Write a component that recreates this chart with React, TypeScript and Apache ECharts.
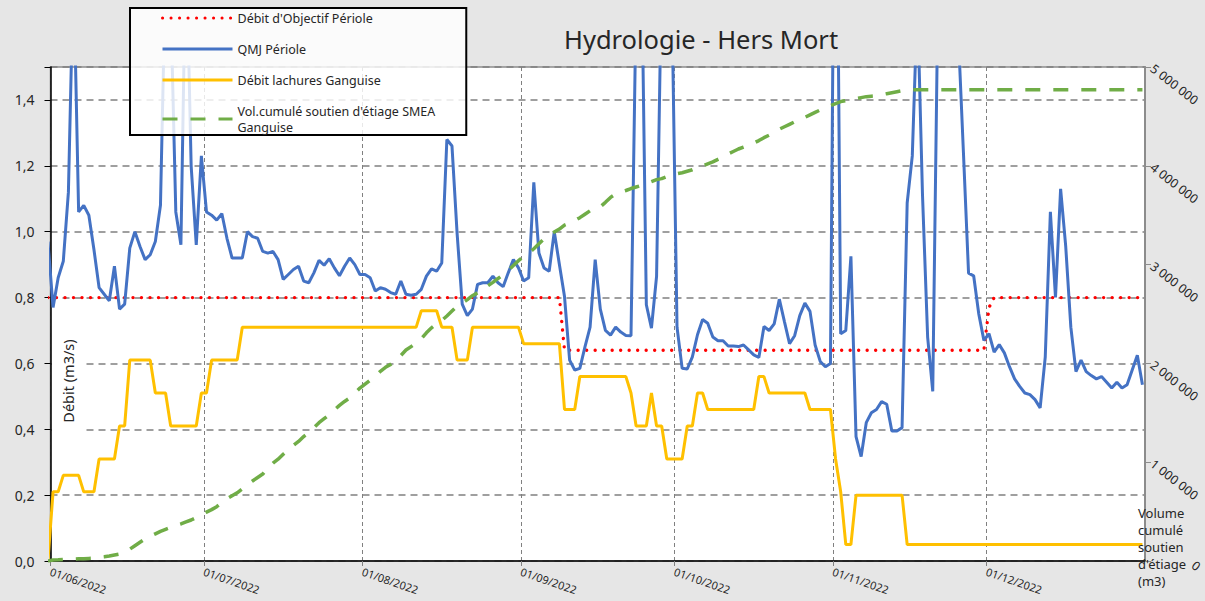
import React, { useEffect, useRef } from 'react';
import * as echarts from 'echarts';

const FONT = "'Noto Sans', 'Open Sans', sans-serif";
const DAY = 86400000;
// first value = 31/05/2022; Excel places each daily point in the middle of its day
const FIRST_POINT = new Date(2022, 4, 31, 12).getTime();
const X_MIN = new Date(2022, 5, 1).getTime();
const X_MAX = new Date(2023, 0, 1).getTime();

const NAME_OBJ = "Débit d'Objectif Périole";
const NAME_QMJ = 'QMJ Périole';
const NAME_LACH = 'Débit lachures Ganguise';
const NAME_VOL = "Vol.cumulé soutien d'étiage SMEA Ganguise";

const qmjPeriole = [
  0.97,
  0.77, 0.86, 0.91, 1.12, 1.8, 1.06, 1.08, 1.05, 0.945, 0.83,
  0.81, 0.79, 0.895, 0.765, 0.78, 0.95, 1.0, 0.955, 0.915, 0.93,
  0.97, 1.08, 1.8, 1.7, 1.06, 0.96, 1.9, 1.2, 0.96, 1.23,
  1.06, 1.05, 1.035, 1.055, 0.98, 0.92, 0.92, 0.92, 1.0, 0.985,
  0.98, 0.94, 0.935, 0.94, 0.915, 0.855, 0.87, 0.885, 0.895, 0.85,
  0.845, 0.875, 0.913, 0.898, 0.918, 0.89, 0.866, 0.895, 0.92, 0.9,
  0.87, 0.87, 0.86, 0.82, 0.83, 0.825, 0.815, 0.81, 0.85, 0.81,
  0.807, 0.81, 0.825, 0.865, 0.887, 0.88, 0.905, 1.28, 1.26, 0.995,
  0.78, 0.745, 0.765, 0.84, 0.845, 0.845, 0.865, 0.845, 0.833, 0.875,
  0.915, 0.89, 0.85, 0.86, 1.15, 0.935, 0.89, 0.88, 1.0, 0.9,
  0.803, 0.61, 0.58, 0.585, 0.65, 0.71, 0.915, 0.765, 0.7, 0.686,
  0.71, 0.695, 0.685, 0.684, 1.7, 1.9, 0.778, 0.707, 0.864, 1.8,
  2.0, 1.7, 0.71, 0.585, 0.583, 0.62, 0.687, 0.733, 0.722, 0.68,
  0.669, 0.669, 0.653, 0.653, 0.651, 0.656, 0.641, 0.626, 0.618, 0.712,
  0.7, 0.72, 0.795, 0.727, 0.66, 0.684, 0.745, 0.783, 0.758, 0.656,
  0.606, 0.59, 0.6, 2.6, 0.69, 0.7, 0.925, 0.378, 0.317, 0.42,
  0.45, 0.46, 0.484, 0.476, 0.395, 0.395, 0.405, 1.087, 1.23, 1.7,
  1.11, 0.68, 0.515, 1.7, 2.0, 2.0, 2.0, 1.6, 1.24, 0.874,
  0.866, 0.75, 0.67, 0.69, 0.634, 0.657, 0.632, 0.59, 0.553, 0.53,
  0.51, 0.505, 0.49, 0.465, 0.62, 1.06, 0.8, 1.13, 0.955, 0.71,
  0.575, 0.61, 0.575, 0.563, 0.553, 0.56, 0.543, 0.525, 0.543, 0.525,
  0.535, 0.58, 0.625, 0.535,
];

const debitLachures = [
  0,
  0.21, 0.21, 0.26, 0.26, 0.26, 0.26, 0.21, 0.21, 0.21, 0.31,
  0.31, 0.31, 0.31, 0.41, 0.41, 0.61, 0.61, 0.61, 0.61, 0.61,
  0.51, 0.51, 0.51, 0.41, 0.41, 0.41, 0.41, 0.41, 0.41, 0.51,
  0.51, 0.61, 0.61, 0.61, 0.61, 0.61, 0.61, 0.71, 0.71, 0.71,
  0.71, 0.71, 0.71, 0.71, 0.71, 0.71, 0.71, 0.71, 0.71, 0.71,
  0.71, 0.71, 0.71, 0.71, 0.71, 0.71, 0.71, 0.71, 0.71, 0.71,
  0.71, 0.71, 0.71, 0.71, 0.71, 0.71, 0.71, 0.71, 0.71, 0.71,
  0.71, 0.71, 0.76, 0.76, 0.76, 0.76, 0.71, 0.71, 0.71, 0.61,
  0.61, 0.61, 0.71, 0.71, 0.71, 0.71, 0.71, 0.71, 0.71, 0.71,
  0.71, 0.71, 0.66, 0.66, 0.66, 0.66, 0.66, 0.66, 0.66, 0.66,
  0.46, 0.46, 0.46, 0.56, 0.56, 0.56, 0.56, 0.56, 0.56, 0.56,
  0.56, 0.56, 0.56, 0.51, 0.41, 0.41, 0.41, 0.51, 0.41, 0.41,
  0.31, 0.31, 0.31, 0.31, 0.41, 0.41, 0.51, 0.51, 0.46, 0.46,
  0.46, 0.46, 0.46, 0.46, 0.46, 0.46, 0.46, 0.46, 0.56, 0.56,
  0.51, 0.51, 0.51, 0.51, 0.51, 0.51, 0.51, 0.51, 0.46, 0.46,
  0.46, 0.46, 0.46, 0.31, 0.21, 0.05, 0.05, 0.2, 0.2, 0.2,
  0.2, 0.2, 0.2, 0.2, 0.2, 0.2, 0.2, 0.05, 0.05, 0.05,
  0.05, 0.05, 0.05, 0.05, 0.05, 0.05, 0.05, 0.05, 0.05, 0.05,
  0.05, 0.05, 0.05, 0.05, 0.05, 0.05, 0.05, 0.05, 0.05, 0.05,
  0.05, 0.05, 0.05, 0.05, 0.05, 0.05, 0.05, 0.05, 0.05, 0.05,
  0.05, 0.05, 0.05, 0.05, 0.05, 0.05, 0.05, 0.05, 0.05, 0.05,
  0.05, 0.05, 0.05, 0.05,
];

const debitObjectif = [
  0.8,
  0.8, 0.8, 0.8, 0.8, 0.8, 0.8, 0.8, 0.8, 0.8, 0.8,
  0.8, 0.8, 0.8, 0.8, 0.8, 0.8, 0.8, 0.8, 0.8, 0.8,
  0.8, 0.8, 0.8, 0.8, 0.8, 0.8, 0.8, 0.8, 0.8, 0.8,
  0.8, 0.8, 0.8, 0.8, 0.8, 0.8, 0.8, 0.8, 0.8, 0.8,
  0.8, 0.8, 0.8, 0.8, 0.8, 0.8, 0.8, 0.8, 0.8, 0.8,
  0.8, 0.8, 0.8, 0.8, 0.8, 0.8, 0.8, 0.8, 0.8, 0.8,
  0.8, 0.8, 0.8, 0.8, 0.8, 0.8, 0.8, 0.8, 0.8, 0.8,
  0.8, 0.8, 0.8, 0.8, 0.8, 0.8, 0.8, 0.8, 0.8, 0.8,
  0.8, 0.8, 0.8, 0.8, 0.8, 0.8, 0.8, 0.8, 0.8, 0.8,
  0.8, 0.8, 0.8, 0.8, 0.8, 0.8, 0.8, 0.8, 0.8, 0.8,
  0.64, 0.64, 0.64, 0.64, 0.64, 0.64, 0.64, 0.64, 0.64, 0.64,
  0.64, 0.64, 0.64, 0.64, 0.64, 0.64, 0.64, 0.64, 0.64, 0.64,
  0.64, 0.64, 0.64, 0.64, 0.64, 0.64, 0.64, 0.64, 0.64, 0.64,
  0.64, 0.64, 0.64, 0.64, 0.64, 0.64, 0.64, 0.64, 0.64, 0.64,
  0.64, 0.64, 0.64, 0.64, 0.64, 0.64, 0.64, 0.64, 0.64, 0.64,
  0.64, 0.64, 0.64, 0.64, 0.64, 0.64, 0.64, 0.64, 0.64, 0.64,
  0.64, 0.64, 0.64, 0.64, 0.64, 0.64, 0.64, 0.64, 0.64, 0.64,
  0.64, 0.64, 0.64, 0.64, 0.64, 0.64, 0.64, 0.64, 0.64, 0.64,
  0.64, 0.64, 0.64, 0.77, 0.8, 0.8, 0.8, 0.8, 0.8, 0.8,
  0.8, 0.8, 0.8, 0.8, 0.8, 0.8, 0.8, 0.8, 0.8, 0.8,
  0.8, 0.8, 0.8, 0.8, 0.8, 0.8, 0.8, 0.8, 0.8, 0.8,
  0.8, 0.8, 0.8, 0.8,
];

const volCumule = [
  0,
  10000, 12000, 15000, 18000, 20000, 22000, 24000, 26000, 28000, 35000,
  42000, 50000, 60000, 70000, 90000, 120000, 155000, 190000, 225000, 250000,
  275000, 300000, 320000, 340000, 360000, 375000, 395000, 415000, 440000, 470000,
  495000, 520000, 550000, 590000, 630000, 660000, 690000, 730000, 775000, 810000,
  845000, 880000, 940000, 990000, 1030000, 1080000, 1125000, 1170000, 1210000, 1260000,
  1300000, 1350000, 1400000, 1440000, 1480000, 1530000, 1575000, 1615000, 1650000, 1700000,
  1750000, 1790000, 1830000, 1870000, 1920000, 1960000, 1990000, 2030000, 2080000, 2135000,
  2170000, 2205000, 2250000, 2310000, 2360000, 2400000, 2435000, 2480000, 2530000, 2580000,
  2610000, 2645000, 2685000, 2715000, 2745000, 2785000, 2820000, 2860000, 2895000, 2940000,
  2990000, 3040000, 3080000, 3115000, 3160000, 3210000, 3260000, 3300000, 3330000, 3360000,
  3400000, 3420000, 3445000, 3475000, 3510000, 3545000, 3565000, 3585000, 3630000, 3680000,
  3715000, 3735000, 3750000, 3770000, 3785000, 3800000, 3820000, 3840000, 3860000, 3870000,
  3890000, 3910000, 3920000, 3930000, 3945000, 3960000, 3980000, 4000000, 4020000, 4040000,
  4065000, 4090000, 4120000, 4145000, 4170000, 4190000, 4210000, 4230000, 4255000, 4285000,
  4310000, 4340000, 4370000, 4395000, 4420000, 4445000, 4470000, 4490000, 4515000, 4540000,
  4565000, 4585000, 4610000, 4630000, 4650000, 4660000, 4670000, 4680000, 4690000, 4700000,
  4705000, 4710000, 4720000, 4730000, 4740000, 4750000, 4760000, 4765000, 4770000, 4770000,
  4770000, 4770000, 4770000, 4770000, 4770000, 4770000, 4770000, 4770000, 4770000, 4770000,
  4770000, 4770000, 4770000, 4770000, 4770000, 4770000, 4770000, 4770000, 4770000, 4770000,
  4770000, 4770000, 4770000, 4770000, 4770000, 4770000, 4770000, 4770000, 4770000, 4770000,
  4770000, 4770000, 4770000, 4770000, 4770000, 4770000, 4770000, 4770000, 4770000, 4770000,
  4770000, 4770000, 4770000, 4770000,
];

const pointDates = qmjPeriole.map((_, i) => FIRST_POINT + i * DAY);
const pairs = (vals: number[]) => vals.map((v, i) => [pointDates[i], v]);

const pad2 = (n: number) => (n < 10 ? '0' + n : String(n));
const fmtDate = (v: number) => {
  if (v >= X_MAX - DAY / 2) return '';
  const d = new Date(v);
  return pad2(d.getDate()) + '/' + pad2(d.getMonth() + 1) + '/' + d.getFullYear();
};
const fmtDebit = (v: number) => (v > 1.45 ? '' : v.toFixed(1).replace('.', ','));
const fmtVol = (v: number) =>
  v === 0 ? '' : String(Math.round(v)).replace(/\B(?=(\d{3})+(?!\d))/g, ' ');

export default function App() {
  const ref = useRef<HTMLDivElement>(null);
  useEffect(() => {
    const chart = echarts.init(ref.current as HTMLDivElement, null, { renderer: 'svg' });
    const textColor = '#262626';
    const option: any = {
      animation: false,
      backgroundColor: '#e6e6e6',
      textStyle: { fontFamily: FONT },
      title: {
        text: 'Hydrologie - Hers Mort',
        left: 564,
        top: 26,
        padding: 0,
        textStyle: { fontSize: 25.5, fontWeight: 'normal', color: textColor, fontFamily: FONT },
      },
      legend: {
        orient: 'vertical',
        left: 130,
        top: 8,
        itemWidth: 70,
        itemHeight: 14,
        itemGap: 15,
        padding: [2, 31, 0, 31],
        backgroundColor: 'rgba(255,255,255,0.82)',
        borderColor: '#000',
        borderWidth: 2,
        borderRadius: 0,
        itemStyle: { opacity: 0 },
        lineStyle: { width: 3 },
        textStyle: { fontSize: 12.5, color: textColor, fontFamily: FONT, lineHeight: 16 },
        formatter: (name: string) =>
          name === NAME_VOL ? "Vol.cumulé soutien d'étiage SMEA\nGanguise" : name,
        data: [NAME_OBJ, NAME_QMJ, NAME_LACH, NAME_VOL],
      },
      grid: {
        left: 50.5,
        right: 60,
        top: 67,
        bottom: 40,
        show: true,
        backgroundColor: '#ffffff',
        borderColor: '#8c8c8c',
        borderWidth: 1.5,
      },
      xAxis: {
        type: 'time',
        min: X_MIN,
        max: X_MAX,
        splitNumber: 7,
        minInterval: 28 * DAY,
        maxInterval: 31 * DAY,
        axisLine: { show: true, lineStyle: { color: '#000', width: 1.5 } },
        axisTick: { show: true, length: 5, lineStyle: { color: '#808080', width: 1 } },
        axisLabel: {
          formatter: fmtDate,
          rotate: -19,
          fontSize: 11,
          color: textColor,
          margin: 10,
          fontFamily: FONT,
          hideOverlap: false,
        },
        splitLine: { show: true, lineStyle: { color: '#808080', width: 1, type: [4, 3] } },
      },
      yAxis: [
        {
          type: 'value',
          position: 'left',
          min: 0,
          max: 1.5,
          interval: 0.2,
          axisLine: { show: true, lineStyle: { color: '#000', width: 1.5 } },
          axisTick: { show: true, length: 6, lineStyle: { color: '#000', width: 1 } },
          axisLabel: { formatter: fmtDebit, fontSize: 14, color: textColor, margin: 16, fontFamily: FONT },
          splitLine: { show: true, lineStyle: { color: '#808080', width: 1.5, type: [7, 5] } },
        },
        {
          type: 'value',
          position: 'right',
          min: 0,
          max: 5000000,
          interval: 1000000,
          axisLine: { show: true, lineStyle: { color: '#8c8c8c', width: 2 } },
          axisTick: { show: true, length: 6, lineStyle: { color: '#8c8c8c', width: 1 } },
          axisLabel: {
            formatter: fmtVol,
            rotate: -38,
            fontSize: 12.5,
            color: textColor,
            margin: 7,
            padding: [6, 0, 0, 0],
            fontFamily: FONT,
          },
          splitLine: { show: false },
        },
      ],
      series: [
        {
          name: NAME_OBJ,
          type: 'line',
          yAxisIndex: 0,
          data: pairs(debitObjectif),
          symbol: 'none',
          color: '#FF0000',
          lineStyle: { color: '#FF0000', width: 3.3, type: [0.1, 8.4], cap: 'round' },
          silent: true,
        },
        {
          name: NAME_QMJ,
          type: 'line',
          yAxisIndex: 0,
          data: pairs(qmjPeriole),
          symbol: 'none',
          color: '#4472C4',
          lineStyle: { color: '#4472C4', width: 3 },
          silent: true,
        },
        {
          name: NAME_LACH,
          type: 'line',
          yAxisIndex: 0,
          data: pairs(debitLachures),
          symbol: 'none',
          color: '#FFC000',
          lineStyle: { color: '#FFC000', width: 3 },
          silent: true,
        },
        {
          name: NAME_VOL,
          type: 'line',
          yAxisIndex: 1,
          data: pairs(volCumule),
          symbol: 'none',
          color: '#70AD47',
          lineStyle: { color: '#70AD47', width: 3.5, type: [15, 13] },
          silent: true,
        },
      ],
      graphic: [
        {
          type: 'rect',
          z: 1,
          shape: { x: 52, y: 320, width: 30, height: 120 },
          style: { fill: '#ffffff' },
          silent: true,
        },
        {
          type: 'text',
          z: 1,
          x: 68,
          y: 381,
          rotation: Math.PI / 2,
          style: {
            text: 'Débit (m3/s)',
            font: `14.5px ${FONT}`,
            fill: textColor,
            align: 'center',
            verticalAlign: 'middle',
          },
          silent: true,
        },
        {
          type: 'text',
          z: 10,
          x: 1138,
          y: 504,
          style: {
            text: "Volume\ncumulé\nsoutien\nd'étiage\n(m3)",
            font: `13px ${FONT}`,
            lineHeight: 17,
            fill: textColor,
            align: 'left',
            verticalAlign: 'top',
          },
          silent: true,
        },
        {
          type: 'text',
          z: 10,
          x: 1196,
          y: 566,
          rotation: (-38 * Math.PI) / 180,
          style: {
            text: '0',
            font: `12.5px ${FONT}`,
            fill: textColor,
            align: 'center',
            verticalAlign: 'middle',
          },
          silent: true,
        },
      ],
    };
    chart.setOption(option);
    return () => chart.dispose();
  }, []);
  return (
    <div
      ref={ref}
      style={{ position: 'fixed', left: 0, top: 0, width: 1205, height: 601 }}
    />
  );
}
